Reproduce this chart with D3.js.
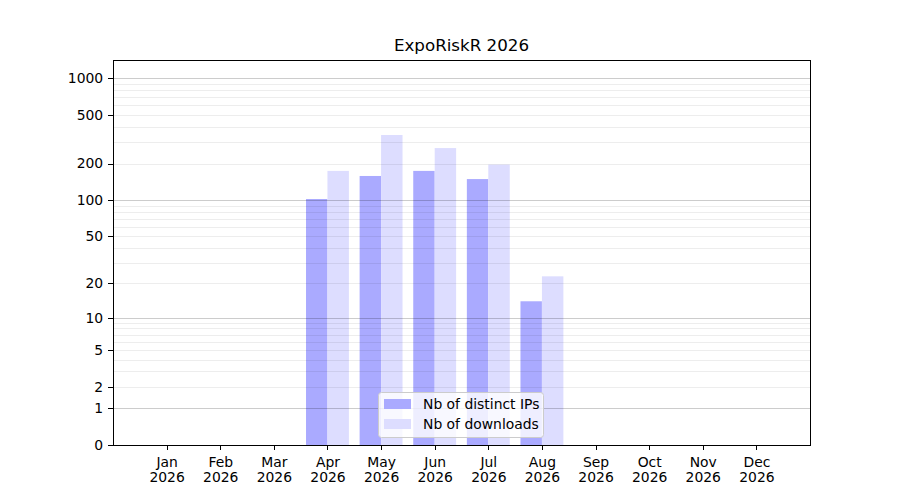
<!DOCTYPE html>
<html>
<head>
<meta charset="utf-8" />
<title>ExpoRiskR 2026</title>
<script src="https://cdn.jsdelivr.net/npm/d3@7"></script>
<style>
  body { margin: 0; background: #fff; }
  #chart { width: 900px; height: 500px; font-family: "DejaVu Sans", sans-serif; }
  .axis path, .axis line { stroke: #000; stroke-width: 1px; shape-rendering: crispEdges; }
  .axis text { font-family: "DejaVu Sans"; font-size: 13.9px; fill: #000; }
  .grid line { shape-rendering: crispEdges; }
  .legend text { font-family: "DejaVu Sans"; font-size: 13.9px; }
</style>
</head>
<body>
<div id="chart"></div>
<script>
  var months = ["Jan", "Feb", "Mar", "Apr", "May", "Jun", "Jul", "Aug", "Sep", "Oct", "Nov", "Dec"];
  var year = "2026";
  var distinctIPs = [0, 0, 0, 102, 158, 174, 149, 14, 0, 0, 0, 0];
  var downloads = [0, 0, 0, 174, 343, 268, 196, 23, 0, 0, 0, 0];
  var yTicks = [0, 1, 2, 5, 10, 20, 50, 100, 200, 500, 1000];
  var majorGrid = [1, 10, 100, 1000];
  var minorGrid = [2, 3, 4, 5, 6, 7, 8, 9, 20, 30, 40, 50, 60, 70, 80, 90,
                   200, 300, 400, 500, 600, 700, 800, 900];

  var margin = {top: 60, right: 90, bottom: 55, left: 113},
      width = 900,
      height = 500,
      chartWidth = width - margin.left - margin.right,
      chartHeight = height - margin.top - margin.bottom;

  var svg = d3.select("#chart").append("svg")
      .attr("width", width)
      .attr("height", height);

  // month index 1..12, one empty slot each side
  var x = d3.scaleLinear().domain([0, 13]).range([0, chartWidth]);
  var y = d3.scaleSymlog().constant(1).domain([0, 1413]).range([chartHeight, 0]);
  var step = x(1) - x(0);
  var barW = step * 0.4;

  var g = svg.append("g")
      .attr("transform", "translate(" + margin.left + "," + margin.top + ")");

  var ipBars = months.map(function(m, i) { return {i: i + 1, v: distinctIPs[i]}; });
  var dlBars = months.map(function(m, i) { return {i: i + 1, v: downloads[i]}; });

  g.selectAll(".bar.ip")
      .data(ipBars)
    .enter().append("rect")
      .attr("class", "bar ip")
      .attr("x", function(d) { return x(d.i) - barW; })
      .attr("width", barW)
      .attr("y", function(d) { return y(d.v); })
      .attr("height", function(d) { return y(0) - y(d.v); })
      .attr("fill", "#aaaaff");

  g.selectAll(".bar.dl")
      .data(dlBars)
    .enter().append("rect")
      .attr("class", "bar dl")
      .attr("x", function(d) { return x(d.i); })
      .attr("width", barW)
      .attr("y", function(d) { return y(d.v); })
      .attr("height", function(d) { return y(0) - y(d.v); })
      .attr("fill", "#ddddff");

  // grid drawn on top of bars, semi transparent
  g.append("g").attr("class", "grid")
    .selectAll("line").data(minorGrid).enter().append("line")
      .attr("x1", 0).attr("x2", chartWidth)
      .attr("y1", function(d) { return Math.round(y(d)) + 0.5; })
      .attr("y2", function(d) { return Math.round(y(d)) + 0.5; })
      .attr("stroke", "#000").attr("stroke-opacity", 0.07);

  g.append("g").attr("class", "grid")
    .selectAll("line").data(majorGrid).enter().append("line")
      .attr("x1", 0).attr("x2", chartWidth)
      .attr("y1", function(d) { return Math.round(y(d)) + 0.5; })
      .attr("y2", function(d) { return Math.round(y(d)) + 0.5; })
      .attr("stroke", "#000").attr("stroke-opacity", 0.2);

  var xAxis = g.append("g")
      .attr("class", "x axis")
      .attr("transform", "translate(0," + chartHeight + ")")
      .call(d3.axisBottom(x).tickValues(d3.range(1, 13)).tickSize(4.9).tickPadding(4.9).tickFormat(""));
  xAxis.select(".domain").remove();

  xAxis.selectAll(".tick text")
      .text(null)
      .attr("y", 0)
      .attr("dy", null)
      .each(function(d) {
        var t = d3.select(this);
        t.append("tspan").attr("x", 0).attr("y", 22).text(months[d - 1]);
        t.append("tspan").attr("x", 0).attr("y", 37).text(year);
      });

  var yAxis = g.append("g")
      .attr("class", "y axis")
      .call(d3.axisLeft(y).tickValues(yTicks).tickSize(4.9).tickPadding(4.9).tickFormat(d3.format("d")));
  yAxis.select(".domain").remove();

  // frame
  g.append("rect")
      .attr("x", 0.5).attr("y", 0.5)
      .attr("width", chartWidth).attr("height", chartHeight)
      .attr("fill", "none").attr("stroke", "#000").attr("stroke-width", 1)
      .attr("shape-rendering", "crispEdges");

  svg.append("text")
      .attr("x", margin.left + chartWidth / 2)
      .attr("y", 51)
      .attr("text-anchor", "middle")
      .attr("font-family", "DejaVu Sans")
      .attr("font-size", "16.7px")
      .text("ExpoRiskR 2026");

  // legend
  var legendItems = [
    {label: "Nb of distinct IPs", color: "#aaaaff"},
    {label: "Nb of downloads", color: "#ddddff"}
  ];
  var legend = svg.append("g").attr("class", "legend")
      .attr("transform", "translate(378,392)");
  legend.append("rect")
      .attr("x", 0.5).attr("y", 0.5).attr("width", 165).attr("height", 45)
      .attr("rx", 3)
      .attr("fill", "#fff").attr("fill-opacity", 0.8)
      .attr("stroke", "#ccc");
  var li = legend.selectAll(".item").data(legendItems).enter().append("g")
      .attr("class", "item")
      .attr("transform", function(d, i) { return "translate(0," + (i * 20) + ")"; });
  li.append("rect")
      .attr("x", 6).attr("y", 7).attr("width", 27).attr("height", 10)
      .attr("fill", function(d) { return d.color; });
  li.append("text")
      .attr("x", 45).attr("y", 12).attr("dy", "0.35em")
      .text(function(d) { return d.label; });
</script>
</body>
</html>
